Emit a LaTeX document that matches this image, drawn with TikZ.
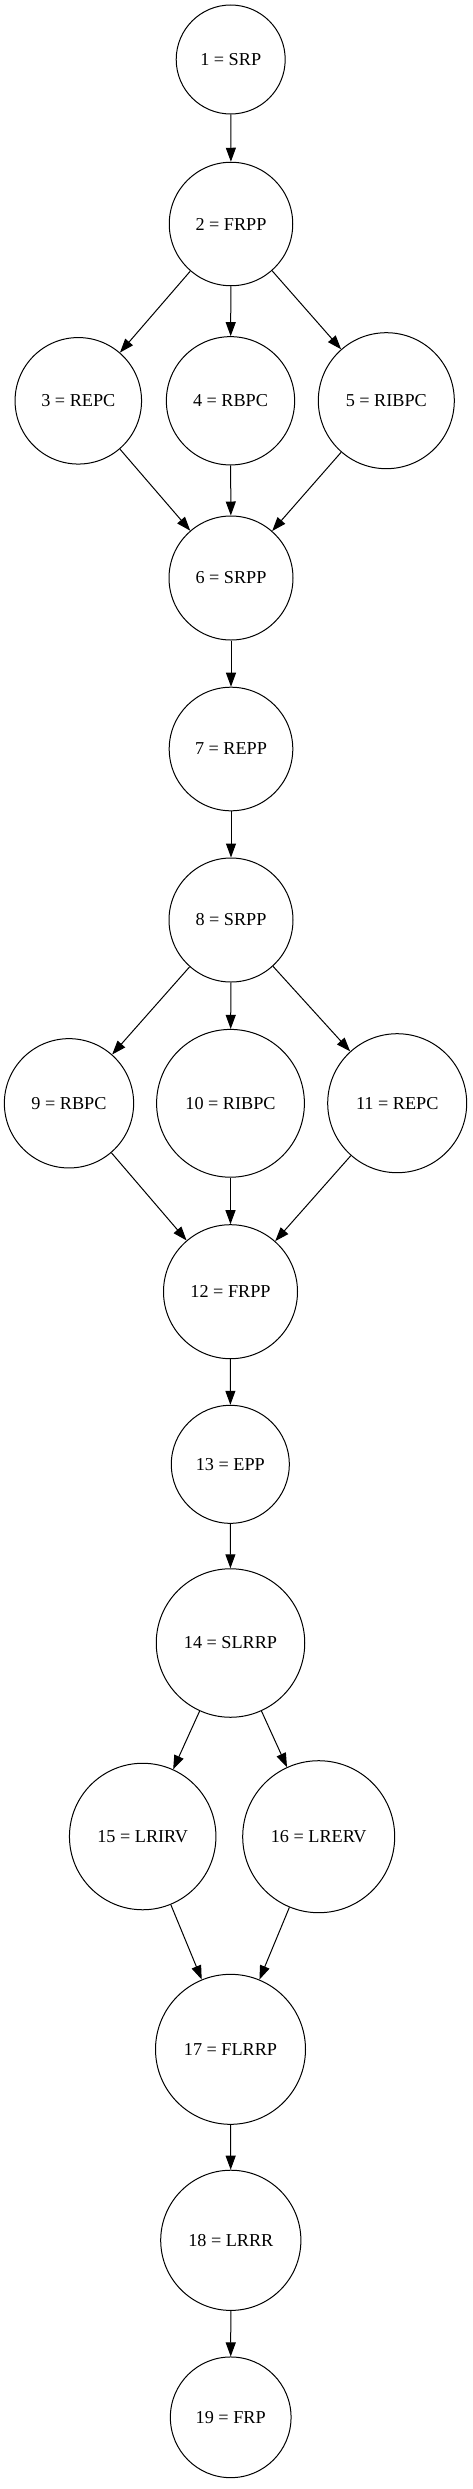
\documentclass[tikz,border=0pt]{standalone}
\usepackage{fontspec}
\setmainfont{Liberation Serif}
\usepackage{tikz}
\usetikzlibrary{arrows.meta}
\tikzstyle{state}=[circle, draw, line width=1pt, inner sep=0pt, font=\fontsize{18.2}{22}\selectfont]
\tikzstyle{edge}=[line width=1pt, -{Triangle[length=14pt,width=10pt]}]

\begin{document}
\begin{tikzpicture}[x=1pt,y=-1pt]
\useasboundingbox (0,0) rectangle (472,2489);
\foreach \i/\x/\y/\d/\t in {1/230.7/59.5/109/SRP, 2/231/224/123.5/FRPP,
	3/78.3/400.8/126.5/REPC, 4/230.5/400.8/128.3/RBPC, 5/386.3/400.7/136/RIBPC,
	6/231/578/124/SRPP, 7/231/749/123.6/REPP, 8/231/920/124/SRPP,
	9/69/1103.3/129.3/RBPC, 10/230.5/1103.3/147.8/RIBPC, 11/397.2/1103.2/139/REPC,
	12/230.5/1291.7/134/FRPP, 13/230.3/1464.3/118/EPP, 14/230.5/1643/148.5/SLRRP,
	15/142.7/1836.5/146.5/LRIRV, 16/318.7/1836.7/152/LRERV,
	17/230.5/2049.3/150/FLRRP, 18/230.8/2240.3/140.2/LRRR, 19/230.7/2417.3/120.7/FRP} {
	\node[state, minimum size=\d pt] (n\i) at (\x,\y) {\i{} = \t};
}
\foreach \a/\b in {1/2, 2/3, 2/4, 2/5, 3/6, 4/6, 5/6, 6/7, 7/8, 8/9, 8/10, 8/11,
	9/12, 10/12, 11/12, 12/13, 13/14, 14/15, 14/16, 15/17, 16/17, 17/18, 18/19} {
	\draw[edge] (n\a) -- (n\b);
}
\end{tikzpicture}
\end{document}
